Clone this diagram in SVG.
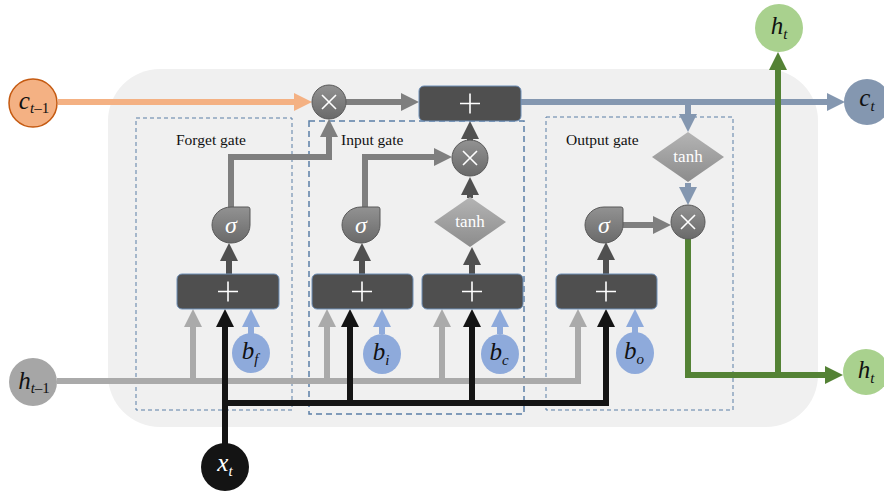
<svg xmlns="http://www.w3.org/2000/svg" xmlns:xlink="http://www.w3.org/1999/xlink" width="884" height="492" viewBox="0 0 884 492">
<style>
.lbl{font-family:"Liberation Serif","Times New Roman",serif;font-size:15.5px;fill:#111}
.var{font-family:"Liberation Serif","Times New Roman",serif;font-style:italic;font-size:25px;text-anchor:middle}
.sub{font-size:15px}
.wt{font-family:"Liberation Serif","Times New Roman",serif;fill:#fff;text-anchor:middle}
.dash{fill:none;stroke:#5b7fa6;stroke-width:1;stroke-dasharray:4 3}
.plusbox{fill:#4f4f4f;stroke:#6f90b8;stroke-width:1}
.sym{stroke:#fff;stroke-width:1.6;fill:none}
.c{fill:none;stroke-width:6}
</style>
<defs>
<linearGradient id="gx" x1="0" y1="0" x2="0" y2="1"><stop offset="0" stop-color="#929292"/><stop offset="1" stop-color="#6a6a6a"/></linearGradient>
<linearGradient id="gt" x1="0" y1="0" x2="0" y2="1"><stop offset="0" stop-color="#b4b4b4"/><stop offset="1" stop-color="#8c8c8c"/></linearGradient>
<path id="sig" d="M-19,0 A19,18 0 0 1 0,-18 L17,-18 Q19,-18 19,-16 L19,0 A19,18 0 0 1 0,18 A19,18 0 0 1 -19,0 Z"/>
<path id="dia" d="M0,-25 L36,0 L0,25 L-36,0 Z"/>
<marker id="mO" markerUnits="userSpaceOnUse" viewBox="0 0 18 18" markerWidth="18" markerHeight="18" refX="8" refY="9" orient="auto"><path d="M0,0 L18,9 L0,18 Z" fill="#f4b183"/></marker>
<marker id="mG" markerUnits="userSpaceOnUse" viewBox="0 0 18 18" markerWidth="18" markerHeight="18" refX="8" refY="9" orient="auto"><path d="M0,0 L18,9 L0,18 Z" fill="#7f7f7f"/></marker>
<marker id="mD" markerUnits="userSpaceOnUse" viewBox="0 0 18 18" markerWidth="18" markerHeight="18" refX="8" refY="9" orient="auto"><path d="M0,0 L18,9 L0,18 Z" fill="#505050"/></marker>
<marker id="mL" markerUnits="userSpaceOnUse" viewBox="0 0 18 18" markerWidth="18" markerHeight="18" refX="8" refY="9" orient="auto"><path d="M0,0 L18,9 L0,18 Z" fill="#aaaaaa"/></marker>
<marker id="mK" markerUnits="userSpaceOnUse" viewBox="0 0 18 18" markerWidth="18" markerHeight="18" refX="8" refY="9" orient="auto"><path d="M0,0 L18,9 L0,18 Z" fill="#141414"/></marker>
<marker id="mB" markerUnits="userSpaceOnUse" viewBox="0 0 18 18" markerWidth="18" markerHeight="18" refX="8" refY="9" orient="auto"><path d="M0,0 L18,9 L0,18 Z" fill="#8eaadb"/></marker>
<marker id="mS" markerUnits="userSpaceOnUse" viewBox="0 0 18 18" markerWidth="18" markerHeight="18" refX="8" refY="9" orient="auto"><path d="M0,0 L18,9 L0,18 Z" fill="#8497b0"/></marker>
<marker id="mE" markerUnits="userSpaceOnUse" viewBox="0 0 18 18" markerWidth="18" markerHeight="18" refX="8" refY="9" orient="auto"><path d="M0,0 L18,9 L0,18 Z" fill="#548235"/></marker>
</defs>

<rect id="cell" x="108" y="69" width="710" height="358" rx="52" fill="#f0f0f0"/>

<g id="gates">
<rect class="dash" x="136" y="118" width="156" height="292"/>
<rect class="dash" x="309" y="121" width="215" height="293" style="stroke-width:1.5;stroke-dasharray:6 4"/>
<rect class="dash" x="546" y="117" width="187" height="293"/>
<text class="lbl" x="176" y="145">Forget gate</text>
<text class="lbl" x="341" y="145">Input gate</text>
<text class="lbl" x="566" y="145">Output gate</text>
</g>

<g id="connectors">
<path class="c" d="M58,102 H302" stroke="#f4b183" marker-end="url(#mO)"/>
<path class="c" d="M346,102 H409" stroke="#7f7f7f" marker-end="url(#mG)"/>
<path class="c" d="M521,102 H835" stroke="#8497b0" marker-end="url(#mS)"/>
<path class="c" d="M688,102 V122" stroke="#8497b0" marker-end="url(#mS)"/>
<path class="c" d="M688,183 V195" stroke="#8497b0" marker-end="url(#mS)"/>
<path class="c" d="M231,208 V157 H329 V129" stroke="#7f7f7f" marker-end="url(#mG)"/>
<path class="c" d="M365,208 V157 H442" stroke="#7f7f7f" marker-end="url(#mG)"/>
<path class="c" d="M470,141 V131" stroke="#505050" marker-end="url(#mD)"/>
<path class="c" d="M470,198 V187" stroke="#505050" marker-end="url(#mD)"/>
<path class="c" d="M229,274 V253" stroke="#505050" marker-end="url(#mD)"/>
<path class="c" d="M362,274 V253" stroke="#505050" marker-end="url(#mD)"/>
<path class="c" d="M472,274 V257" stroke="#505050" marker-end="url(#mD)"/>
<path class="c" d="M606,274 V252" stroke="#505050" marker-end="url(#mD)"/>
<path class="c" d="M623,225 H661" stroke="#7f7f7f" marker-end="url(#mG)"/>
<path class="c" d="M57,381 H578 V319" stroke="#aaaaaa" marker-end="url(#mL)"/>
<path class="c" d="M193,381 V319" stroke="#aaaaaa" marker-end="url(#mL)"/>
<path class="c" d="M327,381 V319" stroke="#aaaaaa" marker-end="url(#mL)"/>
<path class="c" d="M442,381 V319" stroke="#aaaaaa" marker-end="url(#mL)"/>
<path class="c" d="M225,444 V319" stroke="#141414" marker-end="url(#mK)"/>
<path class="c" d="M222,403 H606 V319" stroke="#141414" marker-end="url(#mK)"/>
<path class="c" d="M350,403 V319" stroke="#141414" marker-end="url(#mK)"/>
<path class="c" d="M472,403 V319" stroke="#141414" marker-end="url(#mK)"/>
<path class="c" d="M251,334 V319" stroke="#8eaadb" marker-end="url(#mB)"/>
<path class="c" d="M382,334 V319" stroke="#8eaadb" marker-end="url(#mB)"/>
<path class="c" d="M500,334 V319" stroke="#8eaadb" marker-end="url(#mB)"/>
<path class="c" d="M635,334 V319" stroke="#8eaadb" marker-end="url(#mB)"/>
<path class="c" d="M688,239 V375 H833" stroke="#548235" marker-end="url(#mE)"/>
<path class="c" d="M778,378 V62" stroke="#548235" marker-end="url(#mE)"/>
</g>

<g id="c_prev"><circle cx="33" cy="103" r="24" fill="#f4b183" stroke="#c55a11" stroke-width="1.5"/>
<text class="var" x="34" y="109" fill="#111">c<tspan class="sub" dy="4">t</tspan><tspan class="sub" font-style="normal">–1</tspan></text></g>

<g id="h_prev"><circle cx="33" cy="382" r="24" fill="#a6a6a6"/>
<text class="var" x="34" y="389" fill="#111">h<tspan class="sub" dy="4">t</tspan><tspan class="sub" font-style="normal">–1</tspan></text></g>

<g id="x_t"><circle cx="225" cy="467" r="24" fill="#141414"/>
<text class="var" x="225" y="471" fill="#fff">x<tspan class="sub" dy="5">t</tspan></text></g>

<g id="c_t"><circle cx="867" cy="102" r="23" fill="#8497b0"/>
<text class="var" x="867" y="106" fill="#111">c<tspan class="sub" dy="5">t</tspan></text></g>

<g id="h_t_top"><circle cx="779" cy="28" r="24" fill="#a9d18e"/>
<text class="var" x="779" y="34" fill="#111">h<tspan class="sub" dy="5">t</tspan></text></g>

<g id="h_t_right"><circle cx="866" cy="372" r="23" fill="#a9d18e"/>
<text class="var" x="866" y="378" fill="#111">h<tspan class="sub" dy="5">t</tspan></text></g>

<g id="mul_f"><circle cx="329" cy="102" r="17" fill="url(#gx)" stroke="#595959" stroke-width="1"/>
<path class="sym" d="M322,95 L336,109 M336,95 L322,109"/></g>

<g id="mul_i"><circle cx="470" cy="158" r="18" fill="url(#gx)" stroke="#595959" stroke-width="1"/>
<path class="sym" d="M463,151 L477,165 M477,151 L463,165"/></g>

<g id="mul_o"><circle cx="688" cy="222" r="17" fill="url(#gx)" stroke="#595959" stroke-width="1"/>
<path class="sym" d="M681,215 L695,229 M695,215 L681,229"/></g>

<g id="add_c"><rect class="plusbox" x="419" y="86" width="102" height="35" rx="5"/>
<path class="sym" d="M460,103.5 H480 M470,93.5 V113.5"/></g>

<g id="sum_f"><rect class="plusbox" x="177" y="274" width="102" height="35" rx="5"/>
<path class="sym" d="M218,291.5 H238 M228,281.5 V301.5"/></g>

<g id="sum_i"><rect class="plusbox" x="312" y="274" width="101" height="35" rx="5"/>
<path class="sym" d="M352,291.5 H372 M362,281.5 V301.5"/></g>

<g id="sum_c"><rect class="plusbox" x="422" y="274" width="101" height="35" rx="5"/>
<path class="sym" d="M462,291.5 H482 M472,281.5 V301.5"/></g>

<g id="sum_o"><rect class="plusbox" x="556" y="274" width="101" height="35" rx="5"/>
<path class="sym" d="M596,291.5 H616 M606,281.5 V301.5"/></g>

<g id="sig_f"><use xlink:href="#sig" x="231" y="225" fill="url(#gx)" stroke="#595959" stroke-width="1"/>
<text class="wt" x="231" y="233" font-size="24" font-style="italic">σ</text></g>

<g id="sig_i"><use xlink:href="#sig" x="361" y="225" fill="url(#gx)" stroke="#595959" stroke-width="1"/>
<text class="wt" x="361" y="233" font-size="24" font-style="italic">σ</text></g>

<g id="sig_o"><use xlink:href="#sig" x="604" y="225" fill="url(#gx)" stroke="#595959" stroke-width="1"/>
<text class="wt" x="604" y="233" font-size="24" font-style="italic">σ</text></g>

<g id="tanh_i"><use xlink:href="#dia" x="470" y="222" fill="url(#gt)"/>
<text class="wt" x="470" y="227" font-size="17">tanh</text></g>

<g id="tanh_o"><use xlink:href="#dia" x="688" y="157" fill="url(#gt)"/>
<text class="wt" x="688" y="162" font-size="17">tanh</text></g>

<g id="b_f"><ellipse cx="251" cy="353" rx="19" ry="20" fill="#8eaadb"/>
<text class="var" x="250" y="359" fill="#111">b<tspan class="sub" dy="5">f</tspan></text></g>

<g id="b_i"><ellipse cx="382" cy="354" rx="19" ry="20" fill="#8eaadb"/>
<text class="var" x="381" y="360" fill="#111">b<tspan class="sub" dy="5">i</tspan></text></g>

<g id="b_c"><ellipse cx="500" cy="354" rx="19" ry="20" fill="#8eaadb"/>
<text class="var" x="499" y="360" fill="#111">b<tspan class="sub" dy="5">c</tspan></text></g>

<g id="b_o"><ellipse cx="635" cy="353" rx="19" ry="21" fill="#8eaadb"/>
<text class="var" x="634" y="359" fill="#111">b<tspan class="sub" dy="5">o</tspan></text></g>
</svg>
